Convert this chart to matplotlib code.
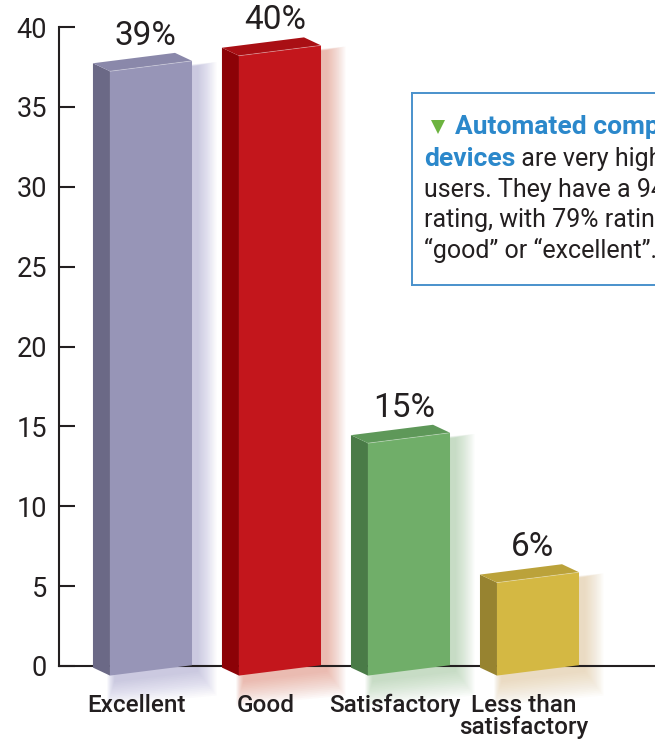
import matplotlib
matplotlib.use("Agg")
import matplotlib.pyplot as plt
from matplotlib.patches import Polygon
import numpy as np

# ---- data ----
categories = ["Excellent", "Good", "Satisfactory", "Less than\nsatisfactory"]
values = [39, 40, 15, 6]
value_labels = ["39%", "40%", "15%", "6%"]
yticks = [0, 5, 10, 15, 20, 25, 30, 35, 40]
box_lines = [
    [("Automated compression", "blue", "bold")],
    [("devices", "blue", "bold"), (" are very highly rated by", "black", "normal")],
    [("users. They have a 94% positive", "black", "normal")],
    [("rating, with 79% rating them", "black", "normal")],
    [("\u201cgood\u201d or \u201cexcellent\u201d.", "black", "normal")],
]

# ---- style ----
front_c = ['#9795b7', '#c3161c', '#70ae69', '#d4b843']
side_c = ['#6b6986', '#8c0207', '#4a7b47', '#978330']
top_c = ['#8a88aa', '#a90f14', '#5e9859', '#bba23a']
glow_c = ['#8e8bc4', '#d86a50', '#86b882', '#d8b57c']
TXT = '#231f20'
FONT = ['Roboto', 'DejaVu Sans']
plt.rcParams['font.family'] = FONT

W, H = 655, 744
fig = plt.figure(figsize=(W / 100, H / 100), dpi=100)
ax = fig.add_axes([59 / W, 1 - 666 / H, 1 - 59 / W, (666 - 27) / H])
ax.set_ylim(0, 40)
ax.set_xlim(-0.713, 3.907)

px_x = (ax.get_xlim()[1] - ax.get_xlim()[0]) / (W - 59)
px_y = 40 / (666 - 27)

x = np.arange(len(values))
hw = 0.318
dxd, dyd = -17 * px_x, 8 * px_y


def faces(xc, v):
    xl, xr = xc - hw, xc + hw
    ybl, ybr = -0.6, 0.05
    ytl = 0.97 * v - 0.6
    ytr = ytl + 0.65
    front = [(xl, ybl), (xr, ybr), (xr, ytr), (xl, ytl)]
    side = [(xl + dxd, ybl + dyd), (xl, ybl), (xl, ytl), (xl + dxd, ytl + dyd)]
    top = [(xl, ytl), (xr, ytr), (xr + dxd, ytr + dyd), (xl + dxd, ytl + dyd)]
    return front, side, top, (xr + dxd, ytr + dyd)


for i, (xc, v) in enumerate(zip(x, values)):
    front, side, top, backr = faces(xc, v)
    # soft glow (right and below)
    fr = np.array(front)
    cx = fr[:, 0].mean()
    cy = fr[:, 1].mean()
    for k in range(1, 16):
        e = k * 1.3
        g = fr.copy()
        g[:, 0] = np.where(g[:, 0] > cx, g[:, 0] + e * px_x, g[:, 0] - e * 0.4 * px_x) + 5 * px_x
        g[:, 1] = np.where(g[:, 1] > cy, g[:, 1] + e * 0.2 * px_y, g[:, 1] - e * 1.3 * px_y) - 5 * px_y
        ax.add_patch(Polygon(g, closed=True, facecolor=glow_c[i], edgecolor='none',
                             alpha=0.035, zorder=1, clip_on=False))
    ax.add_patch(Polygon(side, closed=True, facecolor=side_c[i], edgecolor='none', zorder=3, clip_on=False))
    ax.add_patch(Polygon(front, closed=True, facecolor=front_c[i], edgecolor='none', zorder=3, clip_on=False))
    ax.add_patch(Polygon(top, closed=True, facecolor=top_c[i], edgecolor='none', zorder=3, clip_on=False))
    ax.plot([front[3][0], front[2][0]], [front[3][1], front[2][1]], color='white', alpha=0.35,
            lw=0.6, zorder=4, clip_on=False)
    ax.text(xc - 0.04, backr[1] + 17 * px_y, value_labels[i], ha='center', va='center',
            fontsize=24, fontweight='normal', color=TXT, zorder=5, clip_on=False)

# axes styling
for s in ['top', 'right']:
    ax.spines[s].set_visible(False)
for s in ['left', 'bottom']:
    ax.spines[s].set_linewidth(1.5)
    ax.spines[s].set_color(TXT)
    ax.spines[s].set_zorder(2)
ax.set_yticks(yticks)
ax.set_yticklabels([str(t) for t in yticks])
ax.tick_params(axis='y', direction='in', length=11.5, width=1.5, color=TXT,
               labelsize=19.5, labelcolor=TXT, pad=8.6)
ax.set_xticks(x - 0.11)
ax.set_xticklabels(categories, fontsize=17.5, fontweight='medium', color=TXT,
                   linespacing=0.92, va='top')
ax.tick_params(axis='x', length=0, pad=20)
ax.set_facecolor('none')

# text box (cut off by the right edge, as in the reference)
bx = fig.add_axes([412 / W, 1 - 285 / H, 1 - 412 / W, (285 - 93) / H])
bx.set_xlim(0, 1)
bx.set_ylim(0, 1)
bx.set_xticks([])
bx.set_yticks([])
for s in ['top', 'left', 'bottom']:
    bx.spines[s].set_color('#4a92cc')
    bx.spines[s].set_linewidth(1.4)
bx.spines['right'].set_visible(False)
bw, bh = W - 412, 285 - 93
bx.plot([(438 - 412) / bw], [(285 - 127) / bh], marker='v', color='#6cb33f',
        markersize=10, markeredgewidth=0)
colmap = {"blue": '#2b88cb', "black": TXT}
sizes = {"bold": 19, "normal": 18}
baselines = [134, 166, 197, 227, 258]
for li, (line, base) in enumerate(zip(box_lines, baselines)):
    xs = (455 if li == 0 else 424)
    prev = None
    for seg, col, wt in line:
        if prev is None:
            prev = bx.text((xs - 412) / bw, (285 - base) / bh, seg, ha='left', va='baseline',
                           fontsize=sizes[wt], color=colmap[col], fontweight=wt, clip_on=True)
        else:
            prev = bx.annotate(seg, xy=(1, 0), xycoords=prev, ha='left', va='bottom',
                               fontsize=sizes[wt], color=colmap[col], fontweight=wt,
                               annotation_clip=False, clip_on=True)

fig.savefig('out.png', dpi=100)
